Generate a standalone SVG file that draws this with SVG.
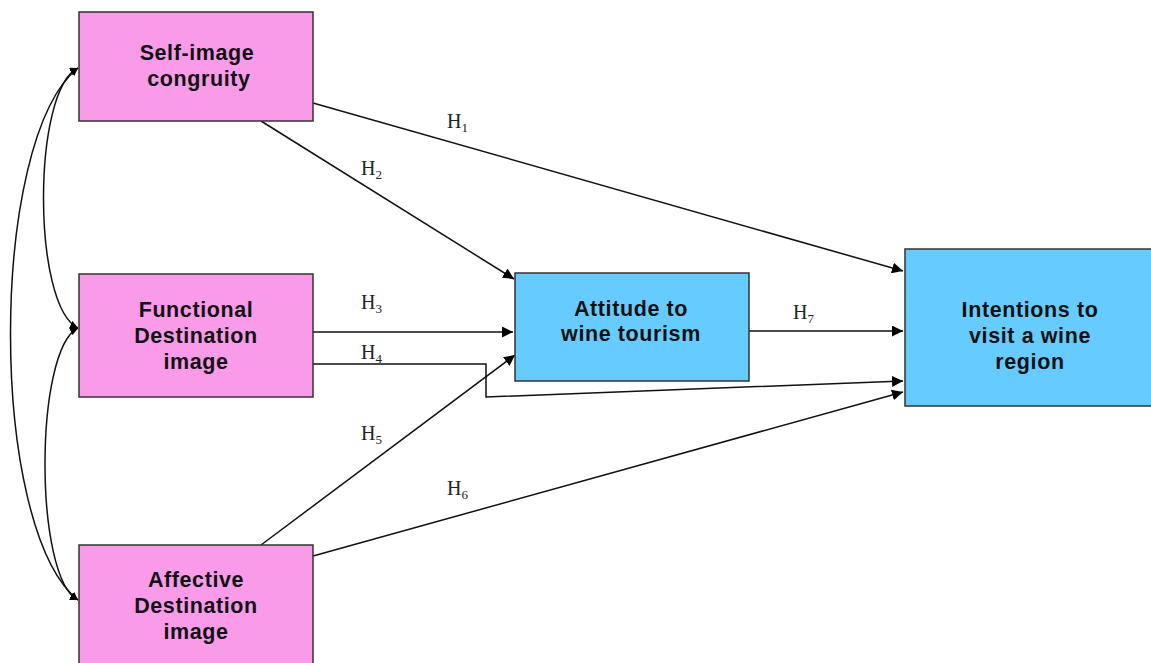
<svg xmlns="http://www.w3.org/2000/svg" width="1151" height="663" viewBox="0 0 1151 663">
<style>
.pink{fill:#F99BE9;stroke:#333;stroke-width:1.5}
.blue{fill:#66CCFF;stroke:#333;stroke-width:1.5}
.t{font-family:"Liberation Sans",Arial,sans-serif;font-weight:bold;font-size:21.5px;letter-spacing:0.6px;fill:#111;text-anchor:middle}
.c{fill:none;stroke:#111;stroke-width:1.5}
.h{font-family:"Liberation Serif","Times New Roman",serif;font-size:20px;fill:#222}
.s{font-size:13px}
</style>
<defs>
<marker id="ar" viewBox="0 0 10 10" refX="10" refY="5" markerWidth="8" markerHeight="8" markerUnits="userSpaceOnUse" orient="auto-start-reverse">
<path d="M0,0 L10,5 L0,10 z" fill="#000"/>
</marker>
<marker id="ab" viewBox="0 0 10 10" refX="10" refY="5" markerWidth="11" markerHeight="11" markerUnits="userSpaceOnUse" orient="auto-start-reverse">
<path d="M0,0 L10,5 L0,10 z" fill="#000"/>
</marker>
</defs>
<g id="connectors">
<path class="c" d="M78,68 C32,90 32,306 78,328" marker-start="url(#ar)" marker-end="url(#ar)"/>
<path class="c" d="M78,328 C34,350 34,578 78,600" marker-start="url(#ar)" marker-end="url(#ar)"/>
<path class="c" d="M78,68 C-12,140 -12,528 78,600" marker-start="url(#ar)" marker-end="url(#ar)"/>
<path class="c" d="M313,103 L903,271" marker-end="url(#ab)"/>
<path class="c" d="M261,121 L514,279" marker-end="url(#ab)"/>
<path class="c" d="M313,332 L513,332" marker-end="url(#ab)"/>
<path class="c" d="M313,364 L486,364 L486,397 L903,381" marker-end="url(#ab)"/>
<path class="c" d="M261,545 L515,355" marker-end="url(#ab)"/>
<path class="c" d="M313,556 L903,392" marker-end="url(#ab)"/>
<path class="c" d="M749,331 L903,331" marker-end="url(#ab)"/>
<text class="h" x="447" y="128">H<tspan class="s" dy="4">1</tspan></text>
<text class="h" x="361" y="175">H<tspan class="s" dy="4">2</tspan></text>
<text class="h" x="361" y="309">H<tspan class="s" dy="4">3</tspan></text>
<text class="h" x="361" y="359">H<tspan class="s" dy="4">4</tspan></text>
<text class="h" x="361" y="440">H<tspan class="s" dy="4">5</tspan></text>
<text class="h" x="447" y="495">H<tspan class="s" dy="4">6</tspan></text>
<text class="h" x="793" y="319">H<tspan class="s" dy="4">7</tspan></text>
</g>
<g id="self-image">
<rect class="pink" x="79" y="12" width="234" height="109"/>
<text class="t" x="197" y="60">Self-image</text>
<text class="t" x="199" y="86">congruity</text>
</g>
<g id="functional">
<rect class="pink" x="79" y="274" width="234" height="123"/>
<text class="t" x="196" y="317">Functional</text>
<text class="t" x="196" y="343">Destination</text>
<text class="t" x="196" y="369">image</text>
</g>
<g id="affective">
<rect class="pink" x="79" y="545" width="234" height="125"/>
<text class="t" x="196" y="587">Affective</text>
<text class="t" x="196" y="613">Destination</text>
<text class="t" x="196" y="639">image</text>
</g>
<g id="attitude">
<rect class="blue" x="515" y="273" width="234" height="108"/>
<text class="t" x="631" y="316">Attitude to</text>
<text class="t" x="631" y="341">wine tourism</text>
</g>
<g id="intentions">
<rect class="blue" x="905" y="249" width="252" height="157"/>
<text class="t" x="1030" y="317">Intentions to</text>
<text class="t" x="1030" y="343">visit a wine</text>
<text class="t" x="1030" y="369">region</text>
</g>
</svg>
